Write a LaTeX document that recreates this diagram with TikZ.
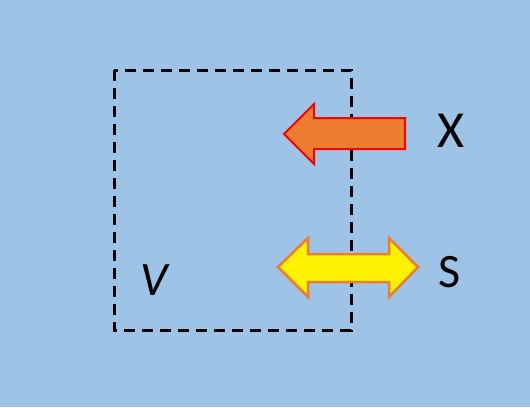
\documentclass[tikz,border=0pt]{standalone}
\usepackage{fontspec}
\setmainfont{Carlito}
\definecolor{bg}{HTML}{9DC3E6}
\definecolor{orng}{HTML}{ED7D31}
\begin{document}
\begin{tikzpicture}[x=1pt,y=-1pt,
  lbl/.style={inner sep=0pt, font=\fontsize{48}{58}\selectfont},
  dashbox/.style={draw=black, line width=3pt, dash pattern=on 11pt off 7pt}]
\fill[bg] (0,0) rectangle (530,407);
\useasboundingbox (0,0) rectangle (530,407);
\draw[dashbox] (114,70) rectangle (351,330);
% orange left arrow
\draw[fill=orng, draw=red, line width=2pt, line join=miter]
  (284,134) -- (314,104) -- (314,118) -- (405,118) -- (405,149) -- (314,149) -- (314,164) -- cycle;
% yellow double arrow
\draw[fill=yellow, draw=orng, line width=2.5pt, line join=miter]
  (278,267) -- (308,238) -- (308,254) -- (389,254) -- (389,238) -- (418,267)
  -- (389,297) -- (389,282) -- (308,282) -- (308,297) -- cycle;
\node[lbl, font=\fontsize{52}{62}\selectfont] (X) at (451,131) {X};
\node[lbl] (S) at (450,272) {S};
\node[lbl] (V) at (154,280) {\itshape V};
\end{tikzpicture}
\end{document}
